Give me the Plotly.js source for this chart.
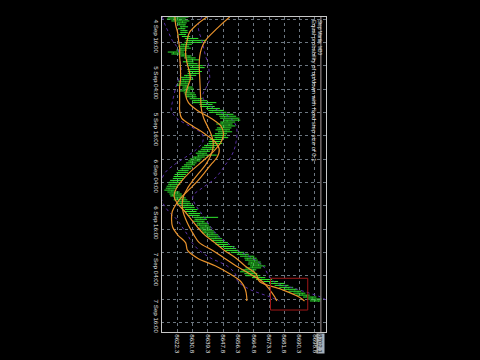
<!DOCTYPE html>
<html><head><meta charset="utf-8">
<script src="https://cdn.plot.ly/plotly-3.0.1.min.js"></script>
<style>
html,body{margin:0;padding:0;background:#000;width:480px;height:360px;overflow:hidden;}
#chart{position:absolute;left:60px;top:-60px;width:360px;height:480px;transform:rotate(90deg);transform-origin:50% 50%;}
</style></head><body><div id="chart"></div>
<script>
// M30 bars, first bar 2019-09-04 15:30
const barStart = '2019-09-04T15:30:00Z';
const opens = [8624.0,8620.5,8623.8,8625.2,8623.5,8626.0,8624.6,8625.9,8626.8,8624.7,
8626.3,8628.4,8631.2,8629.0,8627.5,8625.8,8627.1,8624.4,8623.0,8620.2,
8625.5,8628.8,8630.5,8628.1,8630.9,8629.3,8633.8,8631.0,8629.6,8632.4,
8630.1,8627.4,8628.9,8625.7,8626.9,8624.3,8627.1,8628.6,8626.2,8627.8,
8629.9,8628.3,8631.6,8634.2,8632.0,8638.5,8636.8,8641.2,8643.7,8641.9,
8647.0,8650.2,8648.4,8652.6,8650.0,8647.3,8651.1,8648.2,8646.0,8649.4,
8647.1,8645.4,8647.9,8644.1,8642.6,8644.8,8641.0,8638.5,8640.7,8637.2,
8635.0,8636.6,8634.1,8632.4,8633.5,8629.8,8630.6,8627.3,8628.5,8625.2,
8626.7,8623.4,8624.9,8621.6,8623.8,8620.1,8621.9,8618.6,8620.5,8617.7,
8619.3,8621.4,8619.6,8623.9,8622.1,8625.8,8624.0,8627.9,8626.2,8629.8,
8628.1,8631.4,8630.0,8633.6,8635.3,8633.2,8636.4,8634.7,8638.1,8636.5,
8639.3,8637.8,8641.6,8640.1,8643.7,8642.4,8646.2,8644.9,8648.7,8651.8,
8650.3,8654.9,8657.6,8660.3,8662.8,8661.4,8665.2,8663.6,8667.4,8664.1,
8662.3,8660.5,8663.9,8661.8,8666.7,8669.0,8672.4,8676.6,8679.9,8682.5,
8684.2,8687.6,8689.4,8691.8,8694.0,8697.3,8699.1];
const highs = [8628.5,8627.0,8629.0,8627.5,8627.0,8628.3,8626.8,8628.0,8628.1,8627.2,
8629.5,8634.0,8638.5,8636.2,8630.4,8628.9,8629.8,8627.6,8626.0,8627.5,
8630.2,8632.5,8634.8,8631.3,8633.6,8636.5,8637.5,8634.9,8636.0,8634.5,
8632.8,8630.5,8631.2,8629.0,8628.8,8628.2,8630.9,8631.5,8629.4,8632.0,
8632.7,8633.0,8636.4,8639.0,8644.0,8641.9,8643.1,8646.0,8648.2,8649.6,
8653.5,8655.0,8656.8,8657.3,8654.5,8653.0,8654.6,8652.4,8651.6,8652.8,
8650.0,8649.5,8650.6,8647.5,8646.8,8647.3,8644.6,8643.2,8642.9,8640.5,
8638.9,8644.2,8637.6,8635.8,8635.1,8633.0,8632.2,8630.5,8630.1,8628.6,
8628.3,8627.1,8626.4,8625.7,8625.4,8623.5,8624.0,8622.3,8622.0,8620.9,
8623.6,8624.8,8625.2,8627.0,8627.9,8629.3,8630.1,8631.4,8632.0,8633.6,
8633.0,8635.2,8634.8,8645.0,8638.8,8637.5,8639.2,8639.8,8641.0,8640.7,
8642.6,8643.5,8645.0,8645.9,8647.2,8648.3,8650.5,8650.8,8654.1,8655.0,
8656.6,8659.5,8662.0,8665.1,8666.4,8667.0,8668.7,8669.0,8671.3,8668.9,
8666.2,8665.4,8666.8,8668.5,8671.2,8675.0,8678.3,8682.0,8684.1,8686.7,
8689.0,8691.2,8693.5,8695.9,8699.6,8702.4,8701.9];
const lows = [8617.0,8616.5,8619.0,8622.0,8622.5,8623.8,8622.7,8624.0,8623.9,8623.1,
8624.8,8626.5,8627.0,8626.3,8624.2,8622.9,8623.5,8621.8,8617.0,8619.0,
8624.0,8626.0,8627.2,8625.4,8627.8,8627.6,8629.4,8627.9,8628.2,8628.0,
8626.1,8624.2,8624.6,8622.8,8623.1,8622.0,8625.2,8625.0,8623.6,8625.9,
8626.4,8626.9,8629.1,8630.5,8630.8,8634.6,8635.0,8638.4,8639.5,8640.3,
8643.8,8645.6,8646.1,8648.0,8646.2,8644.0,8646.6,8644.3,8643.5,8644.9,
8643.2,8641.8,8643.0,8640.2,8639.8,8639.6,8637.2,8636.1,8635.3,8633.8,
8632.6,8633.4,8631.0,8629.2,8628.4,8627.1,8626.0,8624.8,8624.0,8622.6,
8621.9,8620.8,8620.2,8619.8,8618.3,8617.6,8617.2,8616.4,8615.9,8615.1,
8616.8,8617.9,8618.4,8620.6,8620.3,8622.4,8622.7,8624.6,8624.3,8626.5,
8626.0,8628.5,8628.1,8631.2,8631.9,8631.0,8633.1,8632.9,8634.6,8634.2,
8636.0,8636.2,8638.2,8638.8,8640.6,8641.0,8643.4,8643.6,8646.0,8648.2,
8649.0,8652.0,8655.4,8657.2,8659.6,8659.9,8661.8,8661.5,8662.7,8660.2,
8657.8,8657.2,8659.6,8660.3,8663.8,8666.1,8670.2,8673.5,8676.4,8679.0,
8681.3,8684.1,8686.8,8688.3,8692.2,8694.8,8696.0];
const closes = [8620.5,8623.8,8625.2,8623.5,8626.0,8624.6,8625.9,8626.8,8624.7,8626.3,
8628.4,8631.2,8629.0,8627.5,8625.8,8627.1,8624.4,8623.0,8620.2,8625.5,
8628.8,8630.5,8628.1,8630.9,8629.3,8633.8,8631.0,8629.6,8632.4,8630.1,
8627.4,8628.9,8625.7,8626.9,8624.3,8627.1,8628.6,8626.2,8627.8,8629.9,
8628.3,8631.6,8634.2,8632.0,8638.5,8636.8,8641.2,8643.7,8641.9,8647.0,
8650.2,8648.4,8652.6,8650.0,8647.3,8651.1,8648.2,8646.0,8649.4,8647.1,
8645.4,8647.9,8644.1,8642.6,8644.8,8641.0,8638.5,8640.7,8637.2,8635.0,
8636.6,8634.1,8632.4,8633.5,8629.8,8630.6,8627.3,8628.5,8625.2,8626.7,
8623.4,8624.9,8621.6,8623.8,8620.1,8621.9,8618.6,8620.5,8617.7,8619.3,
8621.4,8619.6,8623.9,8622.1,8625.8,8624.0,8627.9,8626.2,8629.8,8628.1,
8631.4,8630.0,8633.6,8635.3,8633.2,8636.4,8634.7,8638.1,8636.5,8639.3,
8637.8,8641.6,8640.1,8643.7,8642.4,8646.2,8644.9,8648.7,8651.8,8650.3,
8654.9,8657.6,8660.3,8662.8,8661.4,8665.2,8663.6,8667.4,8664.1,8662.3,
8660.5,8663.9,8661.8,8666.7,8669.0,8672.4,8676.6,8679.9,8682.5,8684.2,
8687.6,8689.4,8691.8,8694.0,8697.3,8699.1,8700.8];

// indicator lines (2-hour samples)
const lineTimes = ['2019-09-04 15:30','2019-09-04 17:30','2019-09-04 19:30','2019-09-04 21:30','2019-09-04 23:30',
'2019-09-05 01:30','2019-09-05 03:30','2019-09-05 05:30','2019-09-05 07:30','2019-09-05 09:30','2019-09-05 11:30',
'2019-09-05 13:30','2019-09-05 15:30','2019-09-05 17:30','2019-09-05 19:30','2019-09-05 21:30','2019-09-05 23:30',
'2019-09-06 01:30','2019-09-06 03:30','2019-09-06 05:30','2019-09-06 07:30','2019-09-06 09:30','2019-09-06 11:30',
'2019-09-06 13:30','2019-09-06 15:30','2019-09-06 17:30','2019-09-06 19:30','2019-09-06 21:30','2019-09-06 23:30',
'2019-09-07 01:30','2019-09-07 03:30','2019-09-07 05:30','2019-09-07 07:30','2019-09-07 09:30','2019-09-07 11:30',
'2019-09-07 13:30','2019-09-07 15:30','2019-09-07 16:30'];
const maFast = [8638.7,8633.0,8629.0,8627.8,8627.0,8627.0,8627.8,8629.0,8629.5,8628.0,8627.0,8628.5,8633.5,8641.0,8646.5,8648.0,8646.8,8643.5,8639.0,8634.0,8629.0,8625.0,8621.8,8620.5,8622.5,8626.5,8630.0,8633.5,8637.5,8643.0,8648.5,8655.0,8660.0,8666.0,8668.0,8680.0,8690.0,8693.0];
const maMid = [8651.4,8646.5,8642.0,8638.0,8635.8,8634.8,8634.5,8634.6,8634.8,8635.0,8635.2,8635.4,8635.8,8637.0,8639.0,8641.0,8642.2,8642.0,8640.5,8638.0,8634.5,8631.0,8628.0,8625.8,8625.0,8625.5,8627.0,8629.0,8631.5,8634.5,8642.0,8648.5,8655.0,8662.5,8669.5,8673.5,8676.5,8677.6];
const maShifted = [8621.0,8621.4,8622.5,8623.0,8623.6,8623.6,8623.9,8624.1,8624.1,8623.6,8623.6,8623.6,8623.6,8624.7,8630.8,8637.5,8643.1,8645.6,8644.5,8640.9,8637.5,8633.9,8629.7,8625.3,8621.8,8619.5,8619.1,8619.7,8622.5,8626.9,8628.0,8633.6,8643.6,8651.4,8657.6,8660.1,8660.9,8660.9];
const bandUpper = [8636,8634,8634.5,8636,8637,8638,8639.5,8640,8640.3,8638.5,8636.5,8638,8645,8652,8655,8655.5,8655,8654,8652,8649,8646,8642,8636,8631,8632,8635,8638,8641,8644.5,8650,8656,8664,8670,8672.5,8676,8689,8702,8706];
const bandLower = [8614,8615.5,8617.5,8619.5,8622.5,8623.5,8624,8624.5,8623,8621.5,8620.5,8619.5,8619,8622,8629,8636,8636.5,8633,8627,8620.5,8615.5,8613.5,8612.5,8613,8614.5,8617.5,8622,8625,8628,8630.5,8634.5,8641,8650,8654.5,8656,8662.5,8674,8679];

const priceTicks = [8622.3,8630.8,8639.3,8647.8,8656.3,8664.8,8673.3,8681.8,8690.3,8698.8];
const bidPrice = 8702.1;
const titleText = 'Step Martin, M30';
const subtitleText = 'Equal probability of up/down with fixed step size of 0.1';

const t0 = Date.parse(barStart);
const barTimes = closes.map((_, i) => new Date(t0 + i * 1800000).toISOString().slice(0, 16).replace('T', ' '));

const GRID = '#6c7680';
const FONT = {family: 'Liberation Sans, Arial, sans-serif', size: 6.2, color: '#e8e8e8'};
const BAR = '#2fe82f';
const ORANGE = '#e8922c';
const PURPLE = '#5a30a8';

const traces = [
  {type: 'ohlc', x: barTimes, open: opens, high: highs, low: lows, close: closes,
   increasing: {line: {color: BAR, width: 1}}, decreasing: {line: {color: BAR, width: 1}},
   tickwidth: 0.3, hoverinfo: 'skip'},
  {type: 'scatter', mode: 'lines', x: lineTimes, y: bandUpper, line: {color: PURPLE, width: 1, dash: 'dot', shape: 'spline'}},
  {type: 'scatter', mode: 'lines', x: lineTimes, y: bandLower, line: {color: PURPLE, width: 1, dash: 'dot', shape: 'spline'}},
  {type: 'scatter', mode: 'lines', x: lineTimes, y: maShifted, line: {color: ORANGE, width: 1.2, shape: 'spline'}},
  {type: 'scatter', mode: 'lines', x: lineTimes, y: maMid, line: {color: ORANGE, width: 1.2, shape: 'spline'}},
  {type: 'scatter', mode: 'lines', x: lineTimes, y: maFast, line: {color: ORANGE, width: 1.2, shape: 'spline'}}
];

const layout = {
  width: 360, height: 480,
  margin: {l: 17, r: 28, t: 154, b: 162, pad: 0},
  paper_bgcolor: '#000', plot_bgcolor: '#000',
  showlegend: false,
  font: FONT,
  xaxis: {
    type: 'date', range: ['2019-09-04 15:29', '2019-09-08 00:29'],
    rangeslider: {visible: false},
    tickmode: 'linear', tick0: '2019-09-04 16:00', dtick: 43200000,
    tickformat: '%-d %b %H:%M', ticklabelposition: 'outside right', ticks: '',
    tickfont: FONT,
    showgrid: true, gridcolor: GRID, griddash: 'dot', gridwidth: 1,
    minor: {tickmode: 'linear', tick0: '2019-09-04 22:00', dtick: 43200000, showgrid: true, gridcolor: GRID, griddash: 'dot', gridwidth: 1},
    showline: true, mirror: true, linecolor: '#c8c8c8', linewidth: 1, zeroline: false
  },
  yaxis: {
    side: 'right', range: [8613.8, 8704.95],
    tickmode: 'array', tickvals: priceTicks, ticktext: priceTicks.map(v => v.toFixed(1)),
    ticks: '', tickfont: FONT,
    showgrid: true, gridcolor: GRID, griddash: 'dot', gridwidth: 1,
    showline: true, mirror: true, linecolor: '#c8c8c8', linewidth: 1, zeroline: false
  },
  shapes: [
    {type: 'line', xref: 'paper', x0: 0, x1: 1, yref: 'y', y0: bidPrice, y1: bidPrice, line: {color: '#8e8282', width: 1.2}},
    {type: 'rect', xref: 'x', yref: 'y', x0: '2019-09-07 10:40', x1: '2019-09-07 18:50', y0: 8674.1, y1: 8694.8, line: {color: '#a01818', width: 1}}
  ],
  annotations: [
    {text: titleText, xref: 'paper', x: 0, xanchor: 'left', xshift: 1, yref: 'paper', y: 1, yanchor: 'middle', yshift: -6.5, showarrow: false, font: {family: FONT.family, size: 4.6, color: '#e0e0e0'}},
    {text: subtitleText, xref: 'paper', x: 0, xanchor: 'left', xshift: 1, yref: 'paper', y: 1, yanchor: 'middle', yshift: -12, showarrow: false, font: {family: FONT.family, size: 5.9, color: '#e0e0e0'}},
    {text: bidPrice.toFixed(1), xref: 'paper', x: 1, xanchor: 'left', xshift: 1, yref: 'y', y: bidPrice, yanchor: 'middle', showarrow: false, bgcolor: '#a7b1bb', borderpad: 0, font: {family: FONT.family, size: 6.2, color: '#111'}}
  ]
};

Plotly.newPlot('chart', traces, layout, {staticPlot: true, displayModeBar: false});
</script></body></html>
